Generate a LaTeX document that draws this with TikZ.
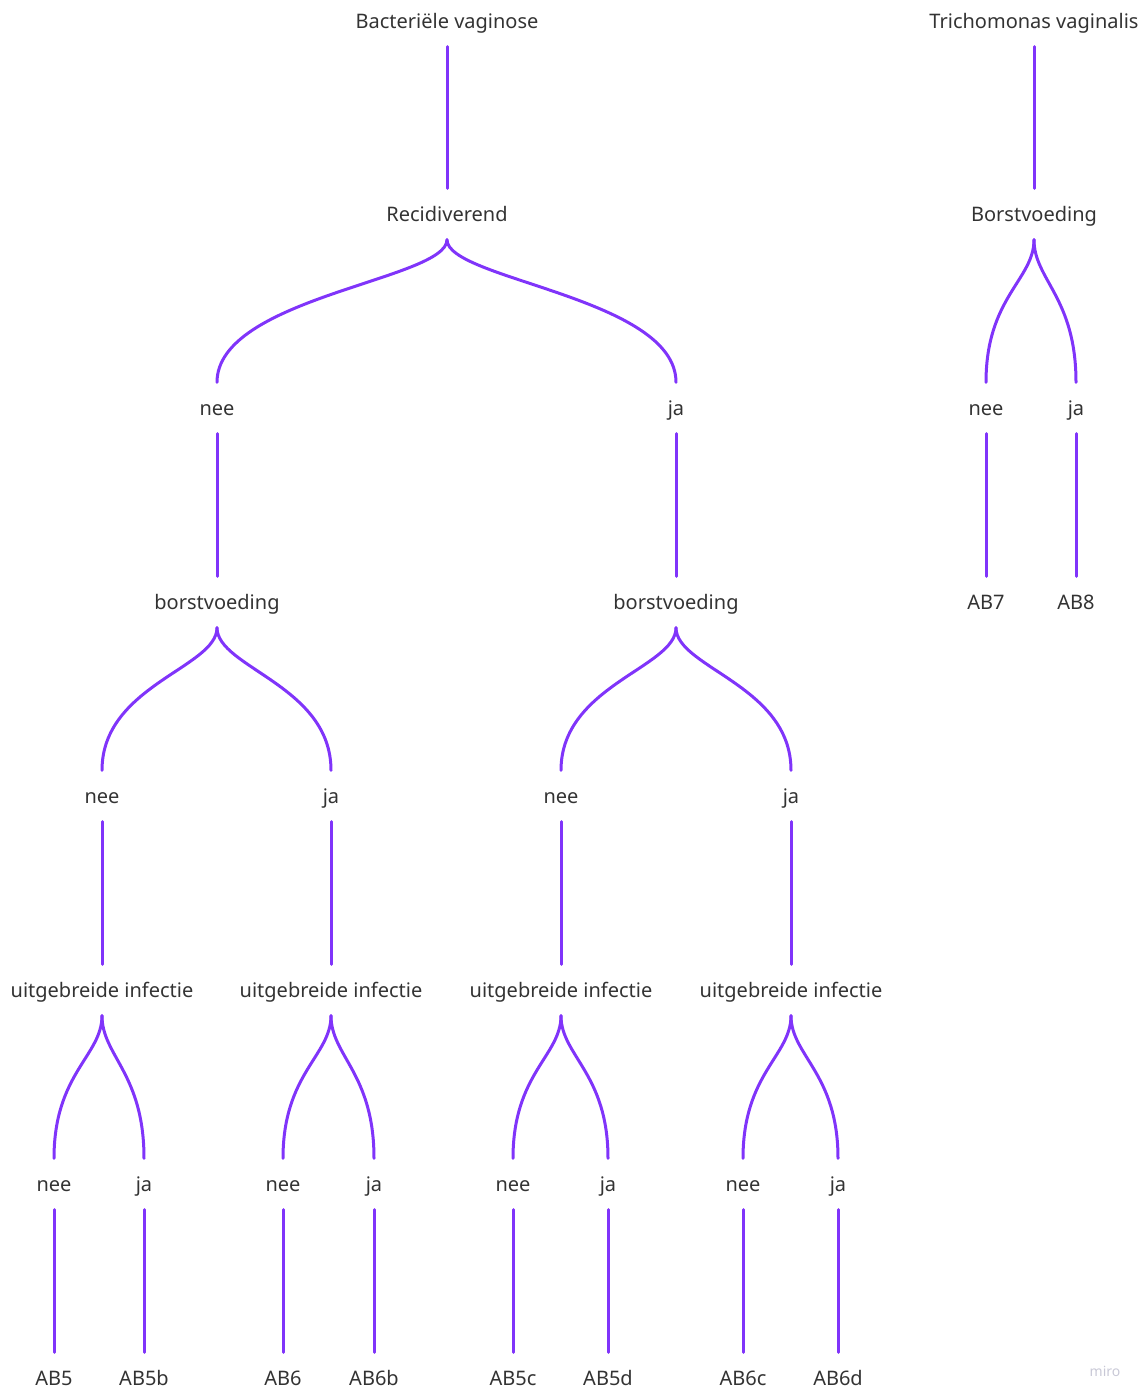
\documentclass[tikz,border=0pt]{standalone}
\usepackage{fontspec}
\setmainfont{Noto Sans}
\definecolor{linkc}{RGB}{128,52,250}
\definecolor{txt}{RGB}{51,51,51}
\definecolor{wm}{RGB}{200,200,214}
\begin{document}
\begin{tikzpicture}[x=1pt,y=-1pt,
  lbl/.style={inner sep=0pt,minimum height=51pt,text height=16pt,text depth=2pt,text=txt,font=\fontsize{20}{23}\selectfont},
  link/.style={draw=linkc,line width=3pt,line cap=round},
  curvy/.style={link}]
\useasboundingbox (0,0) rectangle (1146,1392);
% level 0
\node[lbl] (bv) at (447,21) {Bacteriële vaginose};
\node[lbl] (tv) at (1034,21) {Trichomonas vaginalis};
% level 1
\node[lbl] (rec) at (447,214) {Recidiverend};
\node[lbl] (tb) at (1034,214) {Borstvoeding};
% level 2
\node[lbl] (rn) at (217,408) {nee};
\node[lbl] (rj) at (676,408) {ja};
\node[lbl] (tn) at (986,408) {nee};
\node[lbl] (tj) at (1076,408) {ja};
% level 3
\node[lbl] (bn) at (217,602) {borstvoeding};
\node[lbl] (bj) at (676,602) {borstvoeding};
\node[lbl] (ab7) at (986,602) {AB7};
\node[lbl] (ab8) at (1076,602) {AB8};
% level 4
\node[lbl] (n1) at (102,796) {nee};
\node[lbl] (j1) at (331,796) {ja};
\node[lbl] (n2) at (561,796) {nee};
\node[lbl] (j2) at (791,796) {ja};
% level 5
\node[lbl] (u1) at (102,990) {uitgebreide infectie};
\node[lbl] (u2) at (331,990) {uitgebreide infectie};
\node[lbl] (u3) at (561,990) {uitgebreide infectie};
\node[lbl] (u4) at (791,990) {uitgebreide infectie};
% level 6
\node[lbl] (l1n) at (54,1184) {nee};
\node[lbl] (l1j) at (144,1184) {ja};
\node[lbl] (l2n) at (283,1184) {nee};
\node[lbl] (l2j) at (374,1184) {ja};
\node[lbl] (l3n) at (513,1184) {nee};
\node[lbl] (l3j) at (608,1184) {ja};
\node[lbl] (l4n) at (743,1184) {nee};
\node[lbl] (l4j) at (838,1184) {ja};
% level 7
\node[lbl] (a1) at (54,1378) {AB5};
\node[lbl] (a2) at (144,1378) {AB5b};
\node[lbl] (a3) at (283,1378) {AB6};
\node[lbl] (a4) at (374,1378) {AB6b};
\node[lbl] (a5) at (513,1378) {AB5c};
\node[lbl] (a6) at (608,1378) {AB5d};
\node[lbl] (a7) at (743,1378) {AB6c};
\node[lbl] (a8) at (838,1378) {AB6d};
% watermark
\node[inner sep=0pt,text=wm,font=\fontsize{14}{16}\selectfont] (miro) at (1105,1371) {miro};
% straight links
\foreach \a/\b in {bv/rec,tv/tb,rn/bn,rj/bj,tn/ab7,tj/ab8,n1/u1,j1/u2,n2/u3,j2/u4,
  l1n/a1,l1j/a2,l2n/a3,l2j/a4,l3n/a5,l3j/a6,l4n/a7,l4j/a8}
  \draw[link] (\a.south) -- (\b.north);
% curved links
\foreach \a/\b in {rec/rn,rec/rj,tb/tn,tb/tj,bn/n1,bn/j1,bj/n2,bj/j2,
  u1/l1n,u1/l1j,u2/l2n,u2/l2j,u3/l3n,u3/l3j,u4/l4n,u4/l4j}
  \draw[curvy] (\a.south) .. controls +(0,40) and +(0,-85) .. (\b.north);
\end{tikzpicture}
\end{document}
